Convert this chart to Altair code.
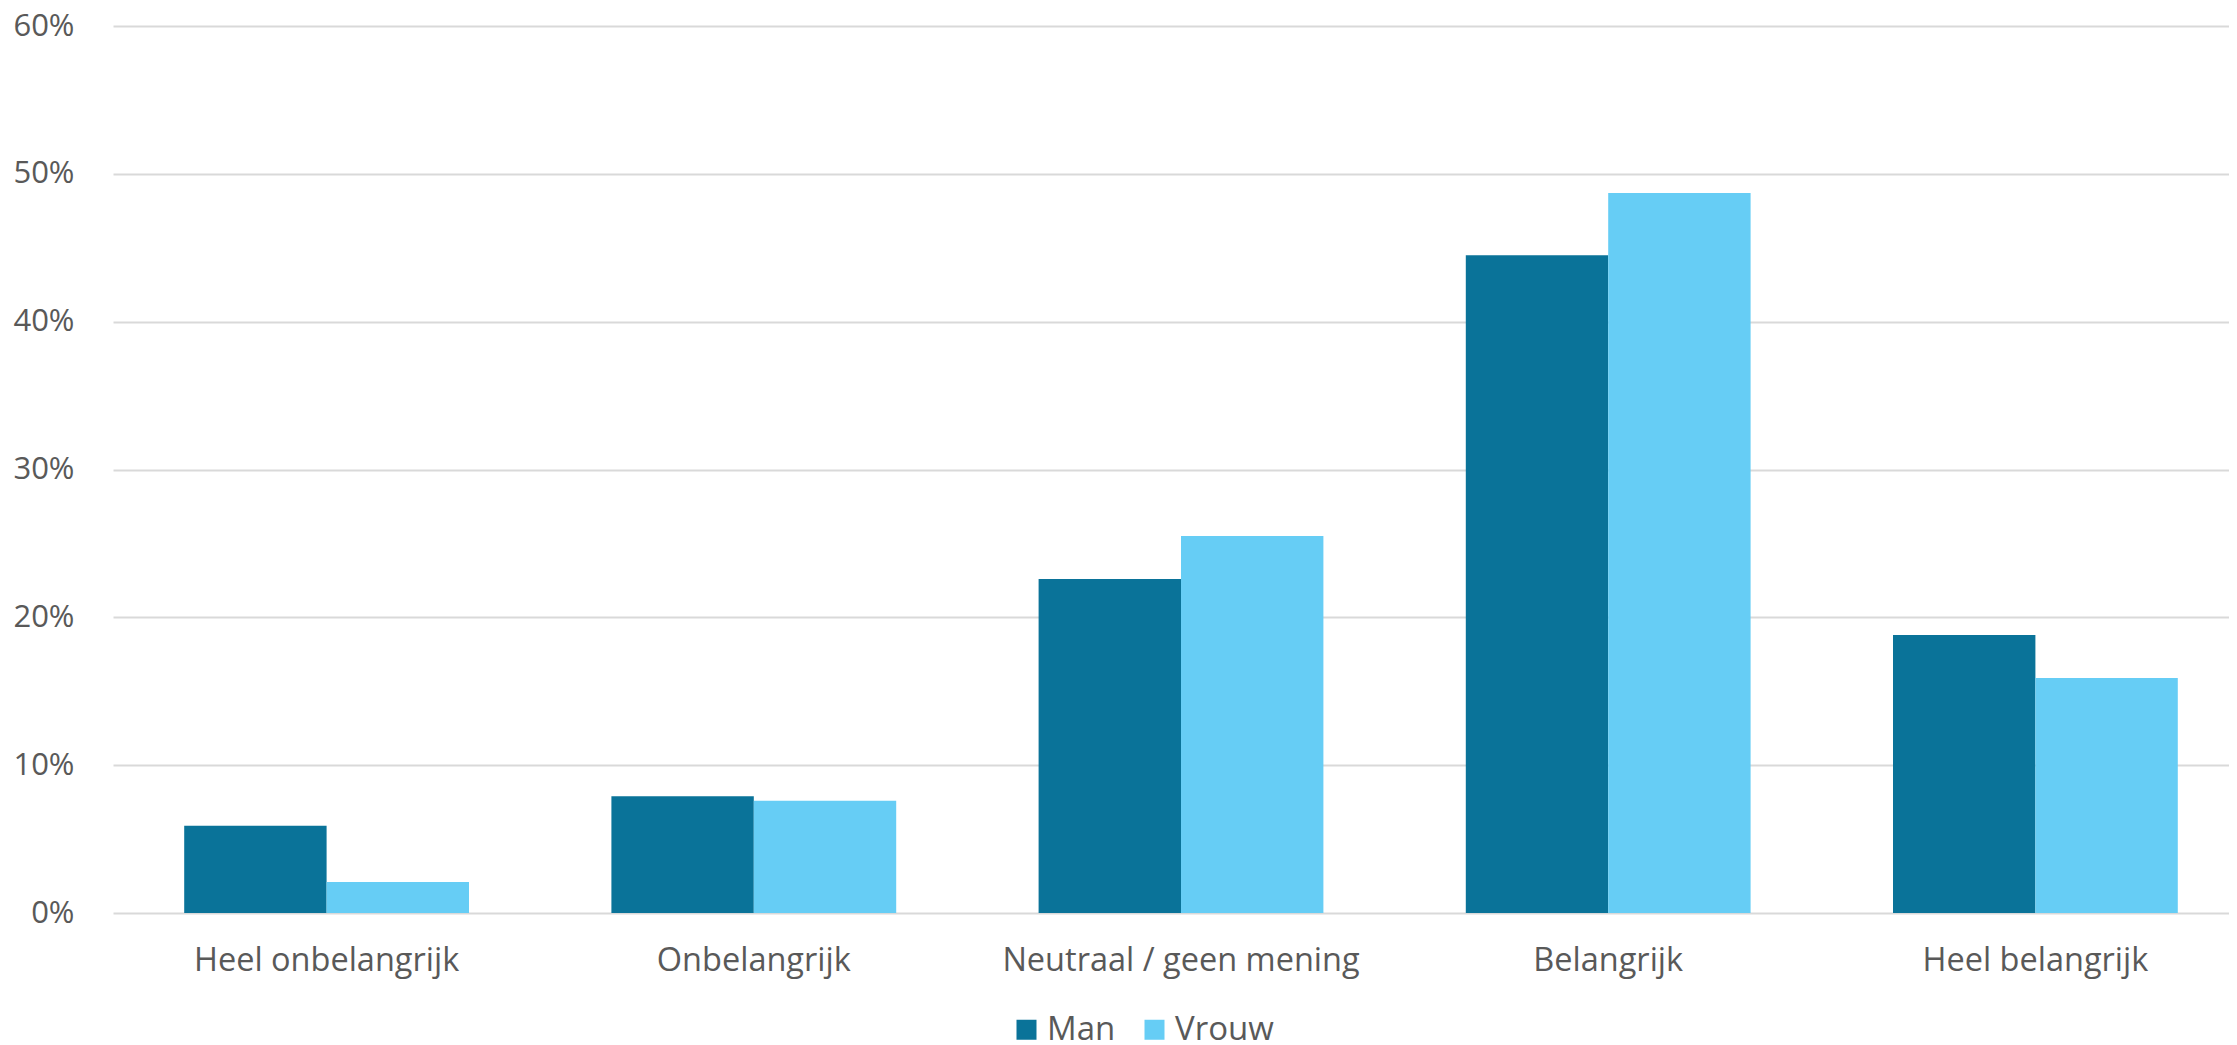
import altair as alt
import pandas as pd

categories = ["Heel onbelangrijk", "Onbelangrijk", "Neutraal / geen mening", "Belangrijk", "Heel belangrijk"]
series = ["Man", "Vrouw"]
man = [0.059, 0.079, 0.226, 0.445, 0.188]
vrouw = [0.021, 0.076, 0.255, 0.487, 0.159]
colors = ["#0A7399", "#66CDF5"]
y_ticks = [0.0, 0.1, 0.2, 0.3, 0.4, 0.5, 0.6]

rows = []
for c, m, v in zip(categories, man, vrouw):
    rows.append({"cat": c, "sex": "Man", "val": m})
    rows.append({"cat": c, "sex": "Vrouw", "val": v})
df = pd.DataFrame(rows)

FONT = "Open Sans"
TXT = "#595959"

chart = alt.Chart(df).mark_bar().encode(
    x=alt.X(
        "cat:N",
        sort=categories,
        scale=alt.Scale(paddingInner=0, paddingOuter=0),
        axis=alt.Axis(
            title=None, labelAngle=0, domain=False, ticks=False, grid=False,
            labelPadding=31, labelFontSize=32.5, labelFont=FONT, labelColor=TXT,
            labelLimit=0,
        ),
    ),
    xOffset=alt.XOffset("sex:N", sort=series, scale=alt.Scale(paddingInner=0, paddingOuter=0.5)),
    y=alt.Y(
        "val:Q",
        scale=alt.Scale(domain=[0, 0.6], nice=False),
        axis=alt.Axis(
            values=y_ticks, format=".0%", title=None, domain=False, ticks=False,
            labelPadding=39, labelFontSize=31, labelFont=FONT, labelColor=TXT,
            gridColor="#D9D9D9", gridWidth=2,
        ),
    ),
    color=alt.Color(
        "sex:N",
        sort=series,
        scale=alt.Scale(domain=series, range=colors),
        legend=alt.Legend(
            title=None, orient="none", legendX=897, legendY=987, direction="horizontal",
            symbolType="square", symbolSize=400, symbolStrokeWidth=0,
            labelFontSize=33, labelFont=FONT, labelColor=TXT, labelOffset=4,
            columnPadding=22, padding=0,
        ),
    ),
).properties(
    width=2136,
    height=887,
    padding={"left": 105, "top": 18, "right": -20, "bottom": 140},
    autosize=alt.AutoSizeParams(type="none"),
).configure_view(stroke=None)

chart.save("out.html", embed_options={"renderer": "svg", "actions": False})
